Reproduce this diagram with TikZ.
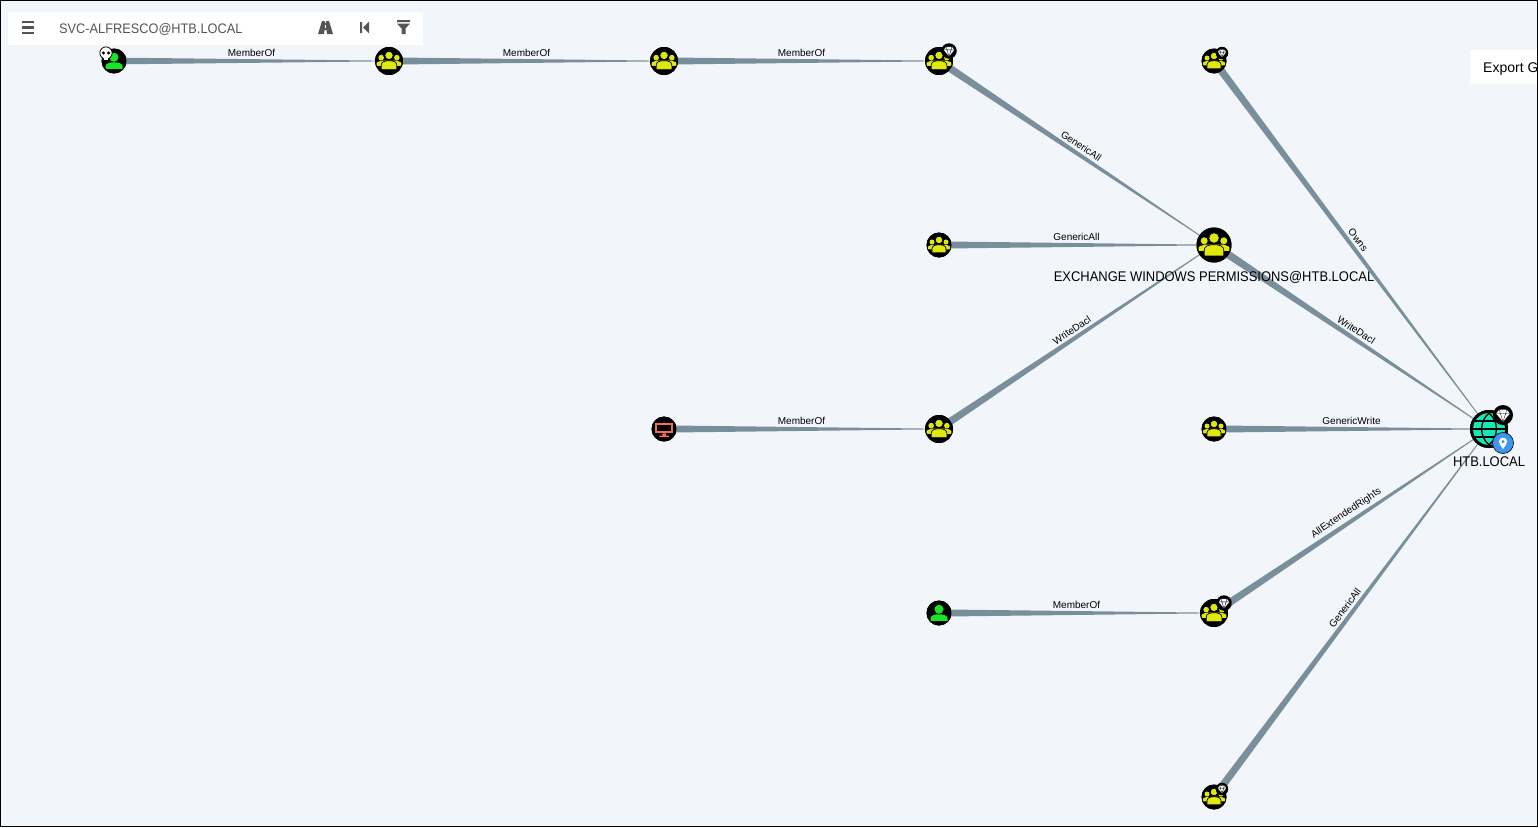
\documentclass[tikz,border=0pt]{standalone}
\usepackage{fontspec}
\setmainfont{Liberation Sans}
\newfontfamily\uifont[FakeStretch=.925]{Liberation Sans}
\usetikzlibrary{calc}
\definecolor{canvasbg}{HTML}{F2F6FB}
\definecolor{edgeblue}{HTML}{7A8F9C}
\definecolor{groupyellow}{HTML}{DFE80E}
\definecolor{usergreen}{HTML}{17E625}
\definecolor{globeteal}{HTML}{17E6B9}
\definecolor{pinblue}{HTML}{3E96F2}
\definecolor{screenred}{HTML}{F2695E}
\definecolor{toolgrey}{HTML}{555555}
\tikzset{
	basenode/.style={circle,fill=black,inner sep=0pt,minimum size=#1},
	edgelabel/.style={sloped,above,inner sep=4.5pt,font=\fontsize{10}{10}\selectfont},
	bigname/.style={inner sep=0pt,font=\uifont\fontsize{14}{14}\selectfont},
	toolbar/.style={fill=white,draw=none},
	pics/grouppic/.style={code={
		\fill[groupyellow] (-.56,-.24) circle[radius=.2] (.56,-.24) circle[radius=.2];
		\fill[groupyellow,rounded corners=.6pt] (-.88,.34) -- (-.88,.1) -- (-.55,-.02) -- (.55,-.02) -- (.88,.1) -- (.88,.34) -- cycle;
		\fill[groupyellow,draw=black,line width=.7pt] (0,-.4) circle[radius=.3];
		\fill[groupyellow,draw=black,line width=.7pt] (-.56,.62) -- (-.56,.3) .. controls (-.56,.06) and (-.3,-.02) .. (0,-.02) .. controls (.3,-.02) and (.56,.06) .. (.56,.3) -- (.56,.62) -- cycle;
	}},
	pics/userpic/.style={code={
		\fill[usergreen] (0,-.3) circle[radius=.36];
		\fill[usergreen] (-.68,.62) -- (-.68,.42) .. controls (-.68,.2) and (-.35,.1) .. (0,.1) .. controls (.35,.1) and (.68,.2) .. (.68,.42) -- (.68,.62) -- cycle;
	}},
	pics/computerpic/.style={code={
		\fill[screenred] (-.72,-.52) rectangle (.72,.34);
		\fill[black] (-.56,-.36) rectangle (.56,.18);
		\fill[screenred] (-.14,.34) rectangle (.14,.52) (-.38,.52) rectangle (.38,.64);
	}},
	pics/globepic/.style={code={
		\fill[globeteal] (0,0) circle[radius=.84];
		\draw[black,line width=1.3pt] (0,-.84) .. controls (-.52,-.4) and (-.52,.4) .. (0,.84) .. controls (.52,.4) and (.52,-.4) .. (0,-.84);
		\draw[black,line width=1.3pt] (-.84,0) -- (.84,0) (-.72,-.42) -- (.72,-.42) (-.72,.42) -- (.72,.42);
	}},
	pics/gempic/.style={code={
		\fill[white] (-.4,-.6) -- (.4,-.6) -- (.76,-.16) -- (0,.76) -- (-.76,-.16) -- cycle;
		\draw[black,line width=.35pt] (-.76,-.16) -- (.76,-.16) (-.3,-.16) -- (0,.76) -- (.3,-.16) (-.4,-.6) -- (-.3,-.16) (.4,-.6) -- (.3,-.16);
	}},
	pics/pinpic/.style={code={
		\fill[white] (0,.68) .. controls (-.26,.28) and (-.46,.06) .. (-.46,-.16) .. controls (-.46,-.42) and (-.25,-.6) .. (0,-.6) .. controls (.25,-.6) and (.46,-.42) .. (.46,-.16) .. controls (.46,.06) and (.26,.28) .. (0,.68) -- cycle;
		\fill[pinblue] (0,-.16) circle[radius=.19];
	}},
	pics/skullpic/.style={code={
		\fill[white,draw=black,line width=.8pt] (0,-.12) circle[radius=.72];
		\fill[white] (-.34,.2) rectangle (.34,.8);
		\draw[black,line width=.8pt] (-.34,.5) -- (-.34,.8) -- (.34,.8) -- (.34,.5);
		\fill[black] (-.3,-.12) circle[radius=.2] (.3,-.12) circle[radius=.2];
	}},
}
\begin{document}
\begin{tikzpicture}[x=1pt,y=-1pt]
	\useasboundingbox (0,0) rectangle (1538,827);
	\fill[canvasbg] (0,0) rectangle (1538,827);

	% graph nodes
	\node[basenode=25pt] (svc) at (114,61) {};
	\node[basenode=28pt] (groupa) at (389,61) {};
	\node[basenode=28pt] (groupb) at (664,61) {};
	\node[basenode=28pt] (groupc) at (939,61) {};
	\node[basenode=25pt] (groupd) at (1214,61) {};
	\node[basenode=25pt] (groupe) at (939,245) {};
	\node[basenode=35pt] (exchange) at (1214,245) {};
	\node[basenode=25pt] (comp) at (664,429) {};
	\node[basenode=28pt] (groupf) at (939,429) {};
	\node[basenode=25pt] (groupg) at (1214,429) {};
	\node[basenode=38pt] (domain) at (1489,429) {};
	\node[basenode=25pt] (user) at (939,613) {};
	\node[basenode=28pt] (grouph) at (1214,613) {};
	\node[basenode=25pt] (groupi) at (1214,797) {};

	% edges, wide at the source
	\foreach \from/\to/\wid/\lab in {svc/groupa/3.4pt/MemberOf,groupa/groupb/3.6pt/MemberOf,groupb/groupc/3.6pt/MemberOf,
		groupc/exchange/3.8pt/GenericAll,groupe/exchange/3.6pt/GenericAll,groupf/exchange/3.8pt/WriteDacl,comp/groupf/3.6pt/MemberOf,
		exchange/domain/4pt/WriteDacl,groupd/domain/3.8pt/Owns,groupg/domain/3.6pt/GenericWrite,grouph/domain/3.8pt/AllExtendedRights,
		groupi/domain/3.8pt/GenericAll,user/grouph/3.6pt/MemberOf}{
		\fill[edgeblue] ($(\from.center)!\wid!90:(\to.center)$) -- ($(\to.center)!.3pt!-90:(\from.center)$)
			-- ($(\to.center)!.3pt!90:(\from.center)$) -- ($(\from.center)!\wid!-90:(\to.center)$) -- cycle;
		\path (\from.center) -- node[edgelabel] {\lab} (\to.center);
	}

	% nodes again, over the edge ends
	\foreach \n/\sz in {svc/25,groupa/28,groupb/28,groupc/28,groupd/25,groupe/25,exchange/35,comp/25,groupf/28,groupg/25,domain/38,user/25,grouph/28,groupi/25}
		\fill[black] (\n.center) circle[radius=\sz/2];
	\foreach \n/\r in {groupa/14,groupb/14,groupc/14,groupd/12.5,groupe/12.5,exchange/17.5,groupf/14,groupg/12.5,grouph/14,groupi/12.5}
		\pic[scale=\r] at (\n.center) {grouppic};
	\pic[scale=12.5] at (svc.center) {userpic};
	\pic[scale=12.5] at (user.center) {userpic};
	\pic[scale=12.5] at (comp.center) {computerpic};
	\pic[scale=19] at (domain.center) {globepic};

	% badges
	\node[basenode=15.5pt] (gemc) at (949,51) {};
	\node[basenode=12.5pt] (gemd) at (1222,53) {};
	\node[basenode=15.5pt] (gemh) at (1224,603) {};
	\node[basenode=12.5pt] (gemi) at (1222,789) {};
	\node[basenode=20pt] (gemdomain) at (1503,415) {};
	\foreach \n/\r in {gemc/7,gemd/5.6,gemh/7,gemi/5.6,gemdomain/9}
		\pic[scale=\r] at (\n.center) {gempic};
	\node[basenode=21pt,fill=pinblue,draw=black,line width=.6pt] (pindomain) at (1503,443) {};
	\pic[scale=9] at (pindomain.center) {pinpic};
	\coordinate (skullpos) at (106,54);
	\pic[scale=8.5] at (skullpos) {skullpic};

	% names
	\node[bigname] (exchangename) at (1214,277.5) {EXCHANGE WINDOWS PERMISSIONS@HTB.LOCAL};
	\node[bigname] (domainname) at (1489,462) {HTB.LOCAL};

	% toolbar
	\fill[toolbar] (8,12) rectangle (423,45);
	\draw[toolgrey,line width=2.4pt] (22,22) -- (34,22) (22,27.5) -- (34,27.5) (22,33) -- (34,33);
	\node[anchor=west,inner sep=0pt,text=toolgrey,font=\uifont\fontsize{13.8}{14}\selectfont] (searchtext) at (59,29.5) {SVC-ALFRESCO@HTB.LOCAL};
	\fill[toolgrey] (318,34) -- (322,21) -- (329,21) -- (333,34) -- (327,34) -- (326.5,30) -- (324.5,30) -- (324,34) -- cycle;
	\draw[white,line width=.9pt] (325.5,21) -- (325.5,23) (325.5,25) -- (325.5,27.5);
	\fill[toolgrey] (360,22) rectangle (362,33) (369,21.5) -- (369,33.5) -- (363,27.5) -- cycle;
	\fill[toolgrey] (397,20) rectangle (410,22) (397,23.5) -- (410,23.5) -- (405.5,28.5) -- (405.5,34) -- (401.5,34) -- (401.5,28.5) -- cycle;

	% export button
	\fill[toolbar] (1470,50) rectangle (1538,84);
	\node[anchor=west,inner sep=0pt,font=\fontsize{14}{14}\selectfont] (exporttext) at (1483,69) {Export G};

	\draw[black,line width=1pt] (.5,.5) rectangle (1537.5,826.5);
\end{tikzpicture}
\end{document}
